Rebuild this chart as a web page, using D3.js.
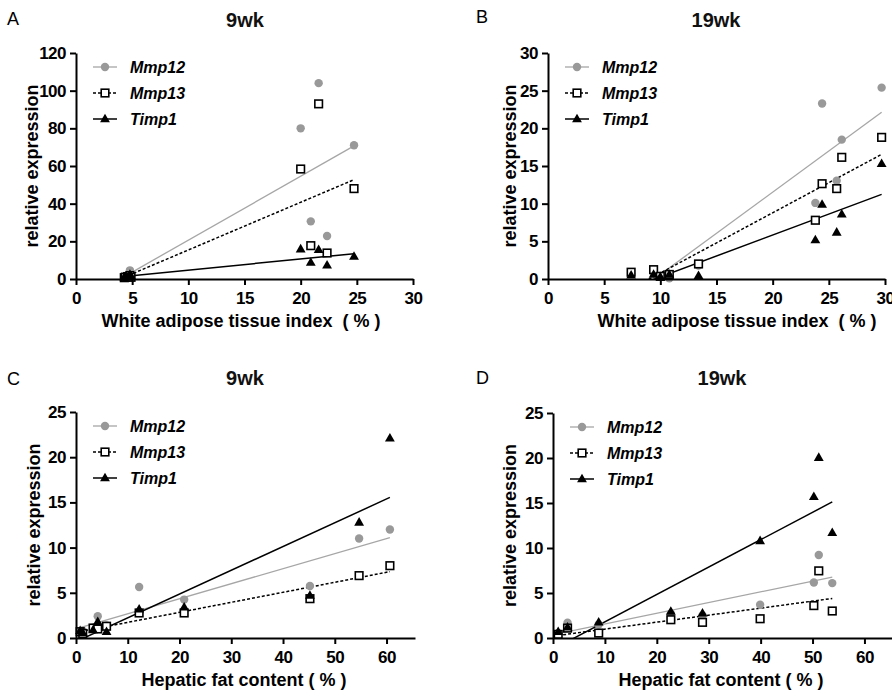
<!DOCTYPE html>
<html lang="en">
<head>
<meta charset="UTF-8">
<title>Mmp12, Mmp13 and Timp1 expression vs adiposity</title>
<script src="https://d3js.org/d3.v7.min.js"></script>
<style>
    body {
        margin: 0;
        background-color: white;
    }

    svg {
        font-family: "Liberation Sans", Arial, sans-serif;
    }

    .axis path,
    .axis line {
        stroke: black;
        stroke-width: 2;
    }

    .axis text {
        font-size: 17px;
        font-weight: bold;
        fill: black;
        letter-spacing: -0.5px;
    }

    .axis-title {
        font-size: 18px;
        font-weight: bold;
        white-space: pre;
    }

    .legend-label {
        font-size: 16px;
        font-weight: bold;
        font-style: italic;
    }

    .panel-title {
        font-size: 20px;
        font-weight: bold;
        fill: #111;
    }

    .panel-letter {
        font-size: 18px;
    }
</style>
</head>
<body>
<svg id="chart" width="892" height="694"></svg>

<script>
    var genes = ["Mmp12", "Mmp13", "Timp1"];

    // A: white adipose tissue index (%), 9wk
    var watIndex9 = [4.3, 4.4, 4.6, 4.8, 4.9, 20.0, 20.9, 21.6, 22.35, 24.75];
    var mmp12_A = [0.9, 1.0, 0.8, 4.6, 1.2, 80, 30.6, 104, 22.8, 71];
    var mmp13_A = [0.7, 1.0, 1.3, 1.8, 0.9, 58.4, 17.7, 93, 13.8, 48];
    var timp1_A = [1.0, 1.2, 0.8, 2.4, 1.5, 15.9, 8.8, 15.6, 7.4, 12];

    // B: white adipose tissue index (%), 19wk
    var watIndex19 = [7.4, 9.4, 10.0, 10.8, 13.4, 23.8, 24.4, 25.7, 26.15, 29.7];
    var mmp12_B = [0.7, 0.9, 0.4, 0.1, 1.8, 10.1, 23.3, 13.05, 18.5, 25.4];
    var mmp13_B = [0.9, 1.24, 0.35, 0.6, 2.0, 7.8, 12.65, 12.0, 16.15, 18.8];
    var timp1_B = [0.5, 0.6, 0.3, 0.6, 0.45, 5.2, 9.9, 6.2, 8.6, 15.3];

    // C: hepatic fat content (%), 9wk
    var liverFat9 = [0.8, 1.3, 3.3, 4.2, 5.9, 12.2, 20.9, 45.2, 54.7, 60.65];
    var mmp12_C = [0.7, 0.8, 1.0, 2.4, 1.4, 5.64, 4.25, 5.75, 11.0, 12.0];
    var mmp13_C = [0.7, 0.5, 1.1, 1.0, 1.3, 2.77, 2.77, 4.35, 6.9, 8.0];
    var timp1_C = [0.8, 0.6, 0.9, 1.8, 0.7, 3.2, 3.4, 4.7, 12.8, 22.1];

    // D: hepatic fat content (%), 19wk
    var liverFat19 = [1.0, 2.8, 8.8, 22.7, 28.8, 39.9, 50.25, 51.2, 53.8];
    var mmp12_D = [0.55, 1.7, 1.5, 2.7, 2.5, 3.7, 6.17, 9.23, 6.1];
    var mmp13_D = [0.4, 1.1, 0.55, 2.03, 1.74, 2.14, 3.6, 7.46, 3.0];
    var timp1_D = [0.7, 1.2, 1.77, 2.95, 2.77, 10.8, 15.7, 20.05, 11.7];

    var watTicks = [0, 5, 10, 15, 20, 25, 30];
    var fatTicks = [0, 10, 20, 30, 40, 50, 60];

    var svg = d3.select("#chart");

    // layout of the four panels
    var panels = [
        {
            id: "A", title: "9wk", x: watIndex9, ys: [mmp12_A, mmp13_A, timp1_A],
            xDomain: [0, 30], xTicks: watTicks, yDomain: [0, 120], yTicks: d3.range(0, 121, 20),
            left: 76, right: 413, top: 53, bottom: 279,
            xTitle: "White adipose tissue index  ( % )", xTitleX: 241, yTitleOff: 38,
            letterX: 7, letterY: 25, titleX: 245, titleY: 27
        },
        {
            id: "B", title: "19wk", x: watIndex19, ys: [mmp12_B, mmp13_B, timp1_B],
            xDomain: [0, 30], xTicks: watTicks, yDomain: [0, 30], yTicks: d3.range(0, 31, 5),
            left: 548, right: 885, top: 53, bottom: 279,
            xTitle: "White adipose tissue index  ( % )", xTitleX: 737, yTitleOff: 32,
            letterX: 476, letterY: 23, titleX: 716, titleY: 27
        },
        {
            id: "C", title: "9wk", x: liverFat9, ys: [mmp12_C, mmp13_C, timp1_C],
            xDomain: [0, 65.5], xTicks: fatTicks, yDomain: [0, 25], yTicks: d3.range(0, 26, 5),
            left: 76, right: 415, top: 412, bottom: 638,
            xTitle: "Hepatic fat content ( % )", xTitleX: 244, yTitleOff: 36,
            letterX: 7, letterY: 385, titleX: 245, titleY: 385
        },
        {
            id: "D", title: "19wk", x: liverFat19, ys: [mmp12_D, mmp13_D, timp1_D],
            xDomain: [0, 65.5], xTicks: fatTicks, yDomain: [0, 25], yTicks: d3.range(0, 26, 5),
            left: 553, right: 893, top: 413, bottom: 638,
            xTitle: "Hepatic fat content ( % )", xTitleX: 721, yTitleOff: 37,
            letterX: 476, letterY: 384, titleX: 722, titleY: 385
        }
    ];

    var lineStyle = {
        Mmp12: { stroke: "#a6a6a6", width: 1.3, dash: null },
        Mmp13: { stroke: "black", width: 1.5, dash: "3,2" },
        Timp1: { stroke: "black", width: 1.5, dash: null }
    };

    function linearFit(xs, ys) {
        var mx = d3.mean(xs), my = d3.mean(ys);
        var sxy = 0, sxx = 0;
        for (var i = 0; i < xs.length; i++) {
            sxy += (xs[i] - mx) * (ys[i] - my);
            sxx += (xs[i] - mx) * (xs[i] - mx);
        }
        var slope = sxy / sxx;
        return { slope: slope, intercept: my - slope * mx };
    }

    function drawMarker(g, gene, cx, cy) {
        if (gene === "Mmp12") {
            g.append("circle").attr("cx", cx).attr("cy", cy).attr("r", 4.2)
                .attr("fill", "#999");
        } else if (gene === "Mmp13") {
            g.append("rect").attr("x", cx - 3.8).attr("y", cy - 3.8)
                .attr("width", 7.6).attr("height", 7.6)
                .attr("fill", "white").attr("stroke", "black").attr("stroke-width", 1.6);
        } else {
            g.append("path").attr("d", d3.symbol(d3.symbolTriangle, 42)())
                .attr("transform", "translate(" + cx + "," + (cy + 0.5) + ")")
                .attr("fill", "black");
        }
    }

    function drawPanel(p) {
        var x = d3.scaleLinear().domain(p.xDomain).range([p.left, p.right]);
        var y = d3.scaleLinear().domain(p.yDomain).range([p.bottom, p.top]);
        var g = svg.append("g").attr("class", "panel-" + p.id);

        // clip regression lines to the plot area (Prism cuts them at y = 0)
        g.append("clipPath").attr("id", "clip" + p.id)
            .append("rect")
            .attr("x", p.left).attr("y", p.top)
            .attr("width", p.right - p.left).attr("height", p.bottom - p.top);

        // regression lines
        var lines = g.append("g").attr("clip-path", "url(#clip" + p.id + ")");
        genes.forEach(function (gene, i) {
            var fit = linearFit(p.x, p.ys[i]);
            var x0 = d3.min(p.x), x1 = d3.max(p.x);
            var st = lineStyle[gene];
            lines.append("line")
                .attr("x1", x(x0)).attr("y1", y(fit.intercept + fit.slope * x0))
                .attr("x2", x(x1)).attr("y2", y(fit.intercept + fit.slope * x1))
                .attr("stroke", st.stroke)
                .attr("stroke-width", st.width)
                .attr("stroke-dasharray", st.dash);
        });

        // points
        genes.forEach(function (gene, i) {
            var pts = g.append("g");
            p.x.forEach(function (xv, j) {
                drawMarker(pts, gene, x(xv), y(p.ys[i][j]));
            });
        });

        // axes
        g.append("g")
            .attr("class", "axis")
            .attr("transform", "translate(0," + p.bottom + ")")
            .call(d3.axisBottom(x).tickValues(p.xTicks).tickSize(6).tickSizeOuter(0).tickPadding(4))
            .selectAll("text").attr("dy", "0.9em");

        g.append("g")
            .attr("class", "axis")
            .attr("transform", "translate(" + p.left + ",0)")
            .call(d3.axisLeft(y).tickValues(p.yTicks).tickSize(6).tickSizeOuter(0).tickPadding(4));

        // axis titles
        g.append("text")
            .attr("class", "axis-title")
            .attr("x", p.xTitleX)
            .attr("y", p.bottom + 48)
            .attr("text-anchor", "middle")
            .text(p.xTitle);

        g.append("text")
            .attr("class", "axis-title")
            .attr("transform", "translate(" + (p.left - p.yTitleOff) + "," + ((p.top + p.bottom) / 2) + ") rotate(-90)")
            .attr("text-anchor", "middle")
            .text("relative expression");

        // panel title and letter
        g.append("text")
            .attr("class", "panel-title")
            .attr("x", p.titleX).attr("y", p.titleY)
            .attr("text-anchor", "middle")
            .text(p.title);

        g.append("text")
            .attr("class", "panel-letter")
            .attr("x", p.letterX).attr("y", p.letterY)
            .text(p.id);

        // legend
        var legend = g.append("g");
        genes.forEach(function (gene, i) {
            var ly = p.top + 14 + i * 26;
            var st = lineStyle[gene];
            legend.append("line")
                .attr("x1", p.left + 17).attr("x2", p.left + 41)
                .attr("y1", ly).attr("y2", ly)
                .attr("stroke", st.stroke)
                .attr("stroke-width", st.width)
                .attr("stroke-dasharray", st.dash);
            drawMarker(legend, gene, p.left + 29, ly);
            legend.append("text")
                .attr("class", "legend-label")
                .attr("x", p.left + 54).attr("y", ly)
                .attr("dy", "0.35em")
                .text(gene);
        });
    }

    panels.forEach(drawPanel);
</script>
</body>
</html>
